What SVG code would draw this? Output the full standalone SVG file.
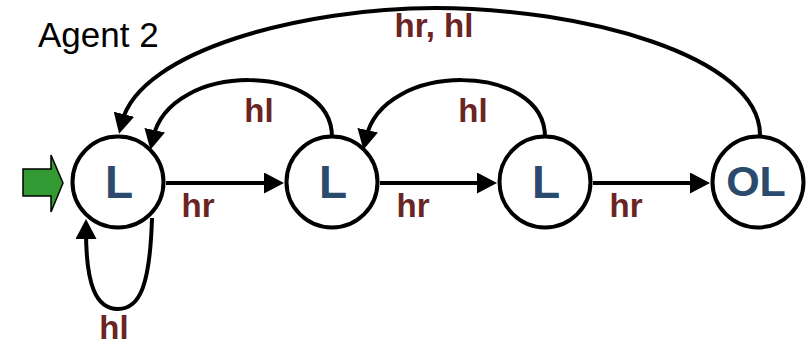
<svg xmlns="http://www.w3.org/2000/svg" width="808" height="346" viewBox="0 0 808 346">
<defs>
<style>
.node circle{fill:#fff;stroke:#000;stroke-width:4}
.node text{font-family:"Liberation Sans",Arial,sans-serif;font-weight:bold;fill:#2a4a6e;text-anchor:middle}
.edge{fill:none;stroke:#000;stroke-width:4;marker-end:url(#ah)}
.lbl{font-family:"Liberation Sans",Arial,sans-serif;font-weight:bold;font-size:33px;fill:#6b2424;text-anchor:middle}
</style>
<marker id="ah" viewBox="0 0 20 21" markerWidth="20" markerHeight="21" markerUnits="userSpaceOnUse" refX="8" refY="10.5" orient="auto">
<path d="M0,0 L20,10.5 L0,21 z" fill="#000"/>
</marker>
</defs>
<rect width="808" height="346" fill="#fff"/>
<text x="38" y="47" font-family="'Liberation Sans',Arial,sans-serif" font-size="35" fill="#000">Agent 2</text>
<polygon id="start" points="23,169 51,169 51,155 63,183 51,212 51,196 23,196" fill="#339933" stroke="#000" stroke-width="1.5"/>
<g id="connectors">
<path class="edge" d="M166,183 H272"/>
<path class="edge" d="M380,183 H485"/>
<path class="edge" d="M593,183 H698"/>
<path class="edge" d="M332,137 C332,62 170,60 153,138"/>
<path class="edge" d="M545,137 C545,62 383,60 366,138"/>
<path class="edge" d="M760,135 C760,55 580,8 435,8 C305,8 140,50 122,122"/>
<path class="edge" d="M152,218 C150,285 140,309 118,309 C96,309 86,285 86,231"/>
<text class="lbl" x="198" y="217">hr</text>
<text class="lbl" x="413" y="217">hr</text>
<text class="lbl" x="626" y="217">hr</text>
<text class="lbl" x="259" y="122">hl</text>
<text class="lbl" x="473" y="122">hl</text>
<text class="lbl" x="434" y="37">hr, hl</text>
<text class="lbl" x="114" y="339">hl</text>
</g>
<g id="n1" class="node"><circle cx="118" cy="182" r="45.5"/><text x="119" y="198" font-size="46">L</text></g>
<g id="n2" class="node"><circle cx="332" cy="182" r="45.5"/><text x="333" y="198" font-size="46">L</text></g>
<g id="n3" class="node"><circle cx="545" cy="182" r="45.5"/><text x="546" y="198" font-size="46">L</text></g>
<g id="n4" class="node"><circle cx="758" cy="182" r="45.5"/><text x="756" y="196" font-size="43">OL</text></g>
</svg>
